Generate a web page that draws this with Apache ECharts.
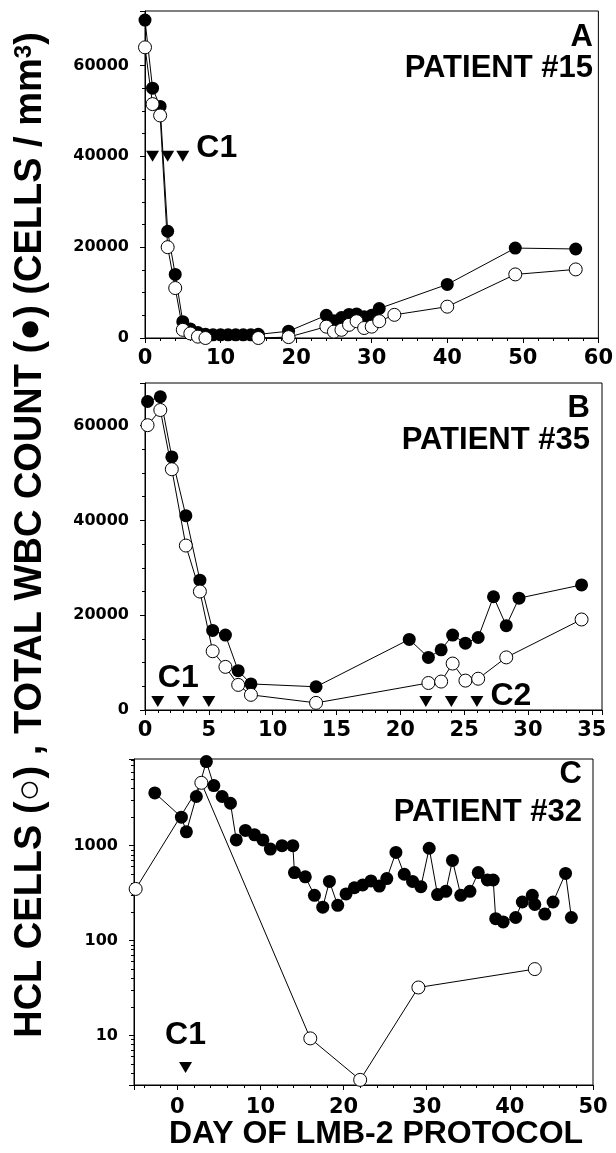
<!DOCTYPE html>
<html>
<head>
<meta charset="utf-8">
<title>LMB-2 protocol</title>
<script src="https://cdn.jsdelivr.net/npm/echarts@6.0.0/dist/echarts.min.js"></script>
<style>
  html, body { margin: 0; padding: 0; background: #fff; }
  #chart { width: 616px; height: 1153px; }
</style>
</head>
<body>
<div id="chart"></div>
<script>
// panel A - patient #15
const wbcDaysA = [0, 1, 2, 3, 4, 5, 6, 7, 8, 9, 10, 11, 12, 13, 14, 15, 19, 24, 25, 26, 27, 28, 29, 30, 31, 40, 49, 57];
const wbcA = [70000, 55000, 51000, 23500, 14000, 3600, 2000, 1200, 800, 700, 700, 700, 700, 700, 700, 800, 1500, 5000, 3800, 4500, 5200, 5300, 4700, 5000, 6500, 11800, 19800, 19600];
const hclDaysA = [0, 1, 2, 3, 4, 5, 6, 7, 8, 15, 19, 24, 25, 26, 27, 28, 29, 30, 31, 33, 40, 49, 57];
const hclA = [64000, 51500, 49000, 20000, 11000, 1800, 1000, 300, 0, 0, 200, 2500, 1400, 1800, 2900, 3700, 2200, 2500, 3700, 5100, 6900, 14000, 15100];
const doseDaysA = [1, 3, 5];
const doseLevelA = 40000;

// panel B - patient #35
const wbcDaysB = [0.2, 1.2, 2.1, 3.2, 4.3, 5.3, 6.3, 7.3, 8.3, 13.4, 20.7, 22.2, 23.2, 24.1, 25.1, 26.1, 27.3, 28.3, 29.3, 34.2];
const wbcB = [65100, 66100, 53400, 41000, 27400, 16800, 15800, 8300, 5500, 4900, 14900, 11100, 12700, 15800, 14100, 15300, 23900, 17800, 23600, 26400];
const hclDaysB = [0.2, 1.2, 2.1, 3.2, 4.3, 5.3, 6.3, 7.3, 8.3, 13.4, 22.2, 23.2, 24.1, 25.1, 26.1, 28.3, 34.2];
const hclB = [60100, 63300, 50800, 34700, 25000, 12400, 9100, 5300, 3200, 1500, 5700, 6000, 9800, 6200, 6600, 11100, 19100];
const doseDaysB = [1, 3, 5, 22, 24, 26];
const doseLevelB = 1800;

// panel C - patient #32 (log scale)
const wbcDaysC = [-2.7, 0.5, 1.1, 2.3, 3.5, 4.4, 5.4, 6.4, 7.1, 8.2, 9.3, 10.3, 11.2, 12.6, 13.9, 14.1, 15.4, 16.5, 17.5, 18.3, 19.3, 20.3, 21.3, 22.3, 23.3, 24.3, 25.2, 26.3, 27.3, 28.3, 29.3, 30.3, 31.3, 32.3, 33.1, 34.1, 35.2, 36.2, 37.3, 38.0, 38.3, 39.2, 40.7, 41.5, 42.7, 43.0, 44.2, 45.2, 46.7, 47.4];
const wbcC = [3600, 2000, 1400, 3300, 7700, 4300, 3300, 2800, 1150, 1450, 1300, 1150, 920, 1000, 1000, 520, 470, 300, 225, 420, 235, 310, 360, 385, 425, 375, 450, 850, 500, 420, 370, 940, 305, 330, 700, 300, 330, 520, 435, 435, 170, 157, 175, 255, 300, 240, 190, 255, 510, 175];
const hclDaysC = [-5, 2.9, 16, 22, 29, 43];
const hclC = [350, 4600, 9.3, 3.4, 32, 50];
const doseDaysC = [1];
const doseLevelC = 4.6;

const TICK_FONT = "'DejaVu Sans', sans-serif";
const TEXT_FONT = "'Liberation Sans', Arial, sans-serif";

function pairs(xs, ys) {
  return xs.map((x, i) => [x, ys[i]]);
}

function plain(v) {
  return String(v);
}

function xAxis(idx, min, max, splitNumber, showMin, showMax, margin) {
  return {
    type: 'value', gridIndex: idx, min: min, max: max, splitNumber: splitNumber,
    axisLine: { show: true, onZero: false, lineStyle: { color: '#000', width: 1 } },
    axisTick: { show: true, length: 5, lineStyle: { color: '#000' } },
    minorTick: { show: true, splitNumber: 5, length: 3, lineStyle: { color: '#000' } },
    splitLine: { show: false },
    axisLabel: {
      color: '#000', fontFamily: TICK_FONT, fontWeight: 'bold', fontSize: 21,
      margin: margin, showMinLabel: showMin, showMaxLabel: showMax, formatter: plain
    }
  };
}

function yAxis(idx, max) {
  return {
    type: 'value', gridIndex: idx, min: 0, max: max, splitNumber: 4,
    axisLine: { show: true, onZero: false, lineStyle: { color: '#000', width: 1 } },
    axisTick: { show: true, length: 5, lineStyle: { color: '#000' } },
    minorTick: { show: true, splitNumber: 4, length: 3, lineStyle: { color: '#000' } },
    splitLine: { show: false },
    axisLabel: {
      color: '#000', fontFamily: TICK_FONT, fontWeight: 'bold', fontSize: 16,
      margin: 16, showMaxLabel: false, formatter: plain
    }
  };
}

function wbcLine(idx, data) {
  return {
    type: 'line', xAxisIndex: idx, yAxisIndex: idx, data: data,
    symbol: 'circle', symbolSize: 13, showAllSymbol: true, clip: false, z: 2,
    itemStyle: { color: '#000', opacity: 1 },
    lineStyle: { color: '#000', width: 1 },
    emphasis: { disabled: true }
  };
}

function hclLine(idx, data) {
  return {
    type: 'line', xAxisIndex: idx, yAxisIndex: idx, data: data,
    symbol: 'circle', symbolSize: 13, showAllSymbol: true, clip: false, z: 3,
    itemStyle: { color: '#fff', borderColor: '#000', borderWidth: 1, opacity: 1 },
    lineStyle: { color: '#000', width: 1 },
    emphasis: { disabled: true }
  };
}

// dose markers, with the cycle name hung on one of them
function doses(idx, days, level, labels) {
  const data = days.map((d, i) => {
    const item = { value: [d, level] };
    const lab = labels[i];
    if (lab) {
      item.label = {
        show: true, formatter: lab.text, position: lab.pos, distance: lab.dist, offset: lab.offset,
        color: '#000', opacity: 1, fontFamily: TEXT_FONT, fontWeight: 'bold', fontSize: 32
      };
    }
    return item;
  });
  return {
    type: 'scatter', xAxisIndex: idx, yAxisIndex: idx, data: data,
    symbol: 'triangle', symbolRotate: 180, symbolSize: [13, 11], clip: false, z: 4,
    itemStyle: { color: '#000', opacity: 1 },
    emphasis: { disabled: true }
  };
}

function panelText(x, y, text) {
  return {
    type: 'text', x: x, y: y,
    style: {
      text: text, fill: '#000', fontFamily: TEXT_FONT, fontWeight: 'bold', fontSize: 31,
      align: 'right', textAlign: 'right', verticalAlign: 'middle', textVerticalAlign: 'middle'
    }
  };
}

const chart = echarts.init(document.getElementById('chart'));

const option = {
  animation: false,
  grid: [
    { left: 145, top: 11, width: 457, height: 327, show: true, borderColor: '#000', borderWidth: 1 },
    { left: 145, top: 383, width: 457, height: 327, show: true, borderColor: '#000', borderWidth: 1 },
    { left: 134, top: 759, width: 459, height: 326, show: true, borderColor: '#000', borderWidth: 1 }
  ],
  xAxis: [
    xAxis(0, 0, 60, 6, true, true, 10),
    xAxis(1, 0, 35.8, 7, true, false, 10),
    xAxis(2, -5.2, 50, 5, false, true, 12)
  ],
  yAxis: [
    yAxis(0, 72000),
    yAxis(1, 69000),
    {
      type: 'log', logBase: 10, gridIndex: 2, min: 3, max: 8200,
      axisLine: { show: true, onZero: false, lineStyle: { color: '#000', width: 1 } },
      axisTick: { show: true, length: 5, lineStyle: { color: '#000' } },
      minorTick: { show: true, splitNumber: 9, length: 3, lineStyle: { color: '#000' } },
      splitLine: { show: false },
      axisLabel: {
        color: '#000', fontFamily: TICK_FONT, fontWeight: 'bold', fontSize: 16,
        margin: 16, showMinLabel: false, showMaxLabel: false, formatter: plain
      }
    }
  ],
  series: [
    wbcLine(0, pairs(wbcDaysA, wbcA)),
    hclLine(0, pairs(hclDaysA, hclA)),
    doses(0, doseDaysA, doseLevelA, [null, null, { text: 'C1', pos: 'right', dist: 7, offset: [0, -8] }]),
    wbcLine(1, pairs(wbcDaysB, wbcB)),
    hclLine(1, pairs(hclDaysB, hclB)),
    doses(1, doseDaysB, doseLevelB, [null, { text: 'C1', pos: 'top', dist: 2, offset: [-5, 0] }, null, null, null,
      { text: 'C2', pos: 'right', dist: 7, offset: [0, -5] }]),
    wbcLine(2, pairs(wbcDaysC, wbcC)),
    hclLine(2, pairs(hclDaysC, hclC)),
    doses(2, doseDaysC, doseLevelC, [{ text: 'C1', pos: 'top', dist: 11, offset: [0, 0] }])
  ],
  graphic: [
    panelText(593, 37, 'A'),
    panelText(593, 68, 'PATIENT #15'),
    panelText(590, 408, 'B'),
    panelText(590, 440, 'PATIENT #35'),
    panelText(582, 774, 'C'),
    panelText(582, 812, 'PATIENT #32'),
    {
      type: 'text', x: 31, y: 535, rotation: Math.PI / 2,
      style: {
        text: 'HCL CELLS (○) , TOTAL WBC COUNT (●) (CELLS / mm{sup|3})',
        fill: '#000', fontFamily: TEXT_FONT, fontWeight: 'bold', fontSize: 38, lineHeight: 38,
        align: 'center', textAlign: 'center', verticalAlign: 'middle', textVerticalAlign: 'middle',
        rich: {
          sup: { fontFamily: TEXT_FONT, fontWeight: 'bold', fontSize: 24, verticalAlign: 'top', fill: '#000' }
        }
      }
    },
    {
      type: 'text', x: 376, y: 1134,
      style: {
        text: 'DAY OF LMB-2 PROTOCOL',
        fill: '#000', fontFamily: TEXT_FONT, fontWeight: 'bold', fontSize: 32,
        align: 'center', textAlign: 'center', verticalAlign: 'middle', textVerticalAlign: 'middle'
      }
    }
  ]
};

chart.setOption(option);
</script>
</body>
</html>
